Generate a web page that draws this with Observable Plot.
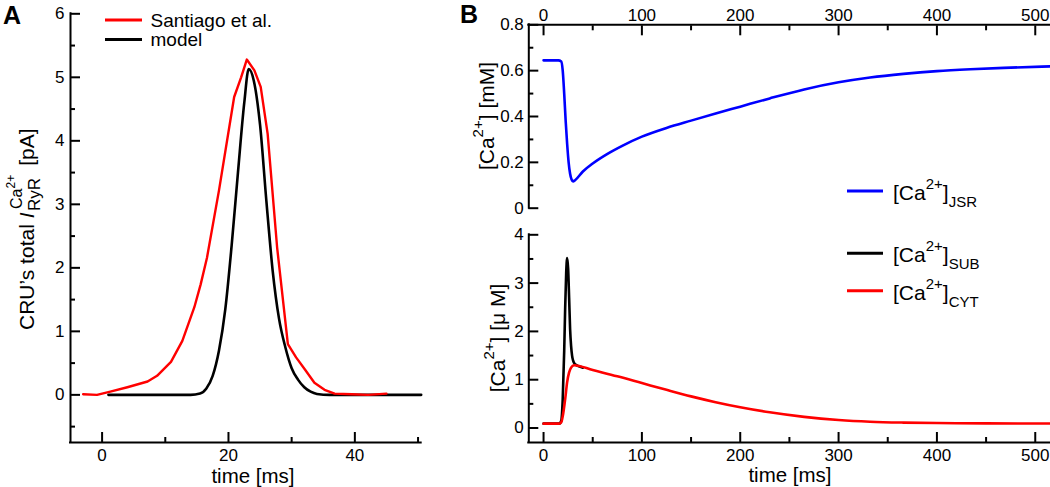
<!DOCTYPE html>
<html><head><meta charset="utf-8">
<script src="https://cdn.jsdelivr.net/npm/d3@7"></script>
<script src="https://cdn.jsdelivr.net/npm/@observablehq/plot@0.6"></script>
<style>
body{margin:0;background:#fff;}
#wrap{position:relative;width:1050px;height:487px;overflow:hidden;}
#wrap svg{position:absolute;}
</style></head><body><div id="wrap"></div>
<script>
const FONT = '"Liberation Sans", Arial, Helvetica, sans-serif';
const RED = "#ff0000", BLUE = "#0000ff", BLACK = "#000000";

// ---------- Panel A data ----------
const santiagoTime    = [-3, -0.8, 1.3, 4.0, 7.2, 8.7, 10.9, 12.7, 14.6, 15.6, 16.6, 18.5, 20.9, 22.0, 22.9, 24.1, 25.1, 26.2, 27.7, 29.4, 30.7, 32.1, 33.6, 35.2, 36.8, 39.5, 42.1, 45.0];
const santiagoCurrent = [0.01, 0.0, 0.05, 0.12, 0.21, 0.30, 0.52, 0.85, 1.38, 1.74, 2.16, 3.22, 4.69, 5.0, 5.28, 5.11, 4.85, 4.11, 2.32, 0.80, 0.59, 0.40, 0.19, 0.08, 0.02, 0.01, 0.0, 0.02];
const modelTime    = [1, 10, 14, 15.5, 16.5, 17.5, 18.5, 19.5, 20.5, 21.5, 22.5, 23.2, 24, 25, 26, 27, 28, 29, 30, 31, 32, 33, 34, 36, 50.5];
const modelCurrent = [0, 0, 0, 0.02, 0.1, 0.3, 0.7, 1.35, 2.35, 3.5, 4.6, 5.13, 4.95, 4.25, 3.05, 1.95, 1.2, 0.75, 0.42, 0.24, 0.12, 0.05, 0.015, 0, 0];
const aXTicks = [0, 20, 40];
const aXMinor = [10, 30, 50];
const aYTicks = [0, 1, 2, 3, 4, 5, 6];
const aYMinor = [-0.5, 0.5, 1.5, 2.5, 3.5, 4.5, 5.5];

// ---------- Panel B data ----------
const jsrTime = [0, 15, 18, 19.5, 21, 22.5, 24, 25.5, 27, 28.5, 30, 32, 40, 50, 65, 80, 100, 125, 150, 175, 200, 230, 265, 300, 332, 366, 400, 434, 468, 516];
const jsrConc = [0.645, 0.645, 0.64, 0.6, 0.5, 0.38, 0.28, 0.2, 0.15, 0.125, 0.117, 0.122, 0.16, 0.195, 0.237, 0.272, 0.312, 0.35, 0.382, 0.413, 0.443, 0.479, 0.518, 0.549, 0.57, 0.586, 0.598, 0.606, 0.612, 0.619];
const subTime = [0, 16, 18, 19.5, 21, 22, 23, 24, 25, 26, 27, 28, 29, 30, 32, 40];
const subConc = [0.09, 0.09, 0.15, 0.6, 1.6, 2.5, 3.2, 3.52, 3.3, 2.7, 2.05, 1.7, 1.5, 1.4, 1.32, 1.25];
const cytTime = [0, 16, 18, 20, 22, 24, 26, 28, 31, 50, 75, 100, 125, 150, 175, 200, 230, 265, 300, 332, 366, 400, 450, 516];
const cytConc = [0.09, 0.09, 0.12, 0.3, 0.6, 0.95, 1.15, 1.25, 1.3, 1.2, 1.07, 0.93, 0.79, 0.655, 0.535, 0.43, 0.325, 0.23, 0.165, 0.13, 0.112, 0.103, 0.096, 0.092];
const bXTicks = [0, 100, 200, 300, 400, 500];
const bXMinor = [50, 150, 250, 350, 450];
const jsrYTicks = [0, 0.2, 0.4, 0.6, 0.8];
const jsrYMinor = [0.1, 0.3, 0.5, 0.7];
const cytYTicks = [0, 1, 2, 3, 4];
const cytYMinor = [0.5, 1.5, 2.5, 3.5];

const zip = (xs, ys) => xs.map((x, i) => ({t: x, v: ys[i]}));
const fmt = d => String(d);
const none = () => "";
const style = {fontFamily: FONT, fontSize: "17px", color: "#000", background: "transparent", overflow: "visible"};
const wrap = document.getElementById("wrap");

function place(svg, left, top) {
  svg.style.left = left + "px"; svg.style.top = top + "px";
  wrap.appendChild(svg);
}

// inward ticks: draw the tick of length L, shifted inward by L
function xAxis(ticks, minor, anchor, pad) {
  const s = anchor === "bottom" ? -1 : 1;
  return [
    Plot.axisX({ticks, anchor, tickSize: 10, dy: s * 10, strokeWidth: 2, tickFormat: none, label: null}),
    Plot.axisX({ticks: minor, anchor, tickSize: 5, dy: s * 5, strokeWidth: 2, tickFormat: none, label: null}),
    Plot.axisX({ticks, anchor, tickSize: 0, tickPadding: pad, tickFormat: fmt, label: null})
  ];
}
function yAxis(ticks, minor, pad) {
  return [
    Plot.axisY({ticks, anchor: "left", tickSize: 10, dx: 10, strokeWidth: 2, tickFormat: none, label: null}),
    Plot.axisY({ticks: minor, anchor: "left", tickSize: 5, dx: 5, strokeWidth: 2, tickFormat: none, label: null}),
    Plot.axisY({ticks, anchor: "left", tickSize: 0, tickPadding: pad, tickFormat: fmt, label: null})
  ];
}

// ---------- Panel A ----------
const plotA = Plot.plot({
  width: 440, height: 487,
  marginLeft: 70, marginRight: 19.3, marginTop: 13.3, marginBottom: 45,
  style,
  x: {domain: [-5, 50.5], axis: null},
  y: {domain: [-0.75, 6], axis: null},
  marks: [
    ...xAxis(aXTicks, aXMinor, "bottom", 6),
    ...yAxis(aYTicks, aYMinor, 6),
    Plot.ruleX([-5], {strokeWidth: 2, strokeLinecap: "square"}),
    Plot.ruleY([-0.75], {strokeWidth: 2, strokeLinecap: "square"}),
    Plot.line(zip(modelTime, modelCurrent), {x: "t", y: "v", stroke: BLACK, strokeWidth: 2.6, curve: "monotone-x"}),
    Plot.line(zip(santiagoTime, santiagoCurrent), {x: "t", y: "v", stroke: RED, strokeWidth: 2.4})
  ]
});
place(plotA, 0, 0);

// ---------- Panel B top ----------
const plotB1 = Plot.plot({
  width: 600, height: 220,
  marginLeft: 78.3, marginRight: 0, marginTop: 24.3, marginBottom: 12.3,
  style,
  x: {domain: [-15, 515.5], axis: null},
  y: {domain: [0, 0.8], axis: null},
  marks: [
    ...xAxis(bXTicks, bXMinor, "top", 4),
    ...yAxis(jsrYTicks, jsrYMinor, 5),
    Plot.ruleX([-15], {strokeWidth: 2, strokeLinecap: "square"}),
    Plot.ruleY([0.8], {strokeWidth: 2, strokeLinecap: "square"}),
    Plot.line(zip(jsrTime, jsrConc), {x: "t", y: "v", stroke: BLUE, strokeWidth: 2.6, curve: "monotone-x"})
  ]
});
place(plotB1, 450, 0);

// ---------- Panel B bottom ----------
const plotB2 = Plot.plot({
  width: 600, height: 267,
  marginLeft: 78.3, marginRight: 0, marginTop: 14.3, marginBottom: 45,
  style,
  x: {domain: [-15, 515.5], axis: null},
  y: {domain: [-0.3, 4], axis: null},
  marks: [
    ...xAxis(bXTicks, bXMinor, "bottom", 6),
    ...yAxis(cytYTicks, cytYMinor, 5),
    Plot.ruleX([-15], {strokeWidth: 2, strokeLinecap: "square"}),
    Plot.ruleY([-0.3], {strokeWidth: 2, strokeLinecap: "square"}),
    Plot.line(zip(subTime, subConc), {x: "t", y: "v", stroke: BLACK, strokeWidth: 2.6, curve: "monotone-x"}),
    Plot.line(zip(cytTime, cytConc), {x: "t", y: "v", stroke: RED, strokeWidth: 2.6, curve: "monotone-x"})
  ]
});
place(plotB2, 450, 220);

// ---------- Overlay: panel letters, legends, axis titles ----------
const ov = d3.create("svg").attr("width", 1050).attr("height", 487)
  .style("left", "0px").style("top", "0px").style("pointer-events", "none")
  .attr("font-family", FONT).attr("fill", "#000");
wrap.appendChild(ov.node());

ov.append("text").attr("x", 3).attr("y", 23.5).attr("font-size", 25).attr("font-weight", "bold").text("A");
ov.append("text").attr("x", 460).attr("y", 22.5).attr("font-size", 25).attr("font-weight", "bold").text("B");

// Legend A
const legA = [{label: "Santiago et al.", color: RED, y: 20}, {label: "model", color: BLACK, y: 39.5}];
legA.forEach(d => {
  ov.append("line").attr("x1", 105).attr("x2", 142).attr("y1", d.y).attr("y2", d.y).attr("stroke", d.color).attr("stroke-width", 3);
  ov.append("text").attr("x", 150.5).attr("y", d.y + 6.5).attr("font-size", 19).text(d.label);
});

// Legend B
const legB = [{sub: "JSR", color: BLUE, y: 191}, {sub: "SUB", color: BLACK, y: 253.3}, {sub: "CYT", color: RED, y: 290.7}];
legB.forEach(d => {
  ov.append("line").attr("x1", 847).attr("x2", 883).attr("y1", d.y).attr("y2", d.y).attr("stroke", d.color).attr("stroke-width", 3);
  const t = ov.append("text").attr("x", 893).attr("y", d.y + 9).attr("font-size", 21);
  t.append("tspan").text("[Ca");
  t.append("tspan").attr("font-size", 15).attr("dy", -11).text("2+");
  t.append("tspan").attr("dy", 11).text("]");
  t.append("tspan").attr("font-size", 15).attr("dy", 7).text(d.sub);
});

// x titles
ov.append("text").attr("x", 253).attr("y", 482.5).attr("text-anchor", "middle").attr("font-size", 20.5).text("time [ms]");
ov.append("text").attr("x", 790).attr("y", 482).attr("text-anchor", "middle").attr("font-size", 20.5).text("time [ms]");

// y titles panel B
function caTitle(x, y, unit) {
  const t = ov.append("text").attr("transform", `translate(${x},${y}) rotate(-90)`).attr("text-anchor", "middle").attr("font-size", 21);
  t.append("tspan").text("[Ca");
  t.append("tspan").attr("font-size", 15).attr("dy", -11).text("2+");
  t.append("tspan").attr("dy", 11).text("] " + unit);
}
caTitle(494, 116, "[mM]");
caTitle(505, 338, "[\u03BC M]");

// y title panel A
const gA = ov.append("g").attr("transform", "translate(33.5,330) rotate(-90)");
const tMain = gA.append("text").attr("x", 0).attr("y", 0).attr("font-size", 21);
tMain.append("tspan").text("CRU\u2019s total ");
tMain.append("tspan").attr("font-style", "italic").text("I");
const w1 = tMain.node().getComputedTextLength() + 1.5;
const tSub = gA.append("text").attr("x", w1).attr("y", 6).attr("font-size", 17).text("RyR");
const wSub = tSub.node().getComputedTextLength();
const tSup = gA.append("text").attr("x", w1 + 2).attr("y", -12).attr("font-size", 16);
tSup.append("tspan").text("Ca");
tSup.append("tspan").attr("font-size", 12).attr("dy", -7).text("2+");
const wSup = tSup.node().getComputedTextLength() + 2;
gA.append("text").attr("x", w1 + Math.max(wSub, wSup) + 9).attr("y", 0).attr("font-size", 21).text("[pA]");
</script></body></html>
